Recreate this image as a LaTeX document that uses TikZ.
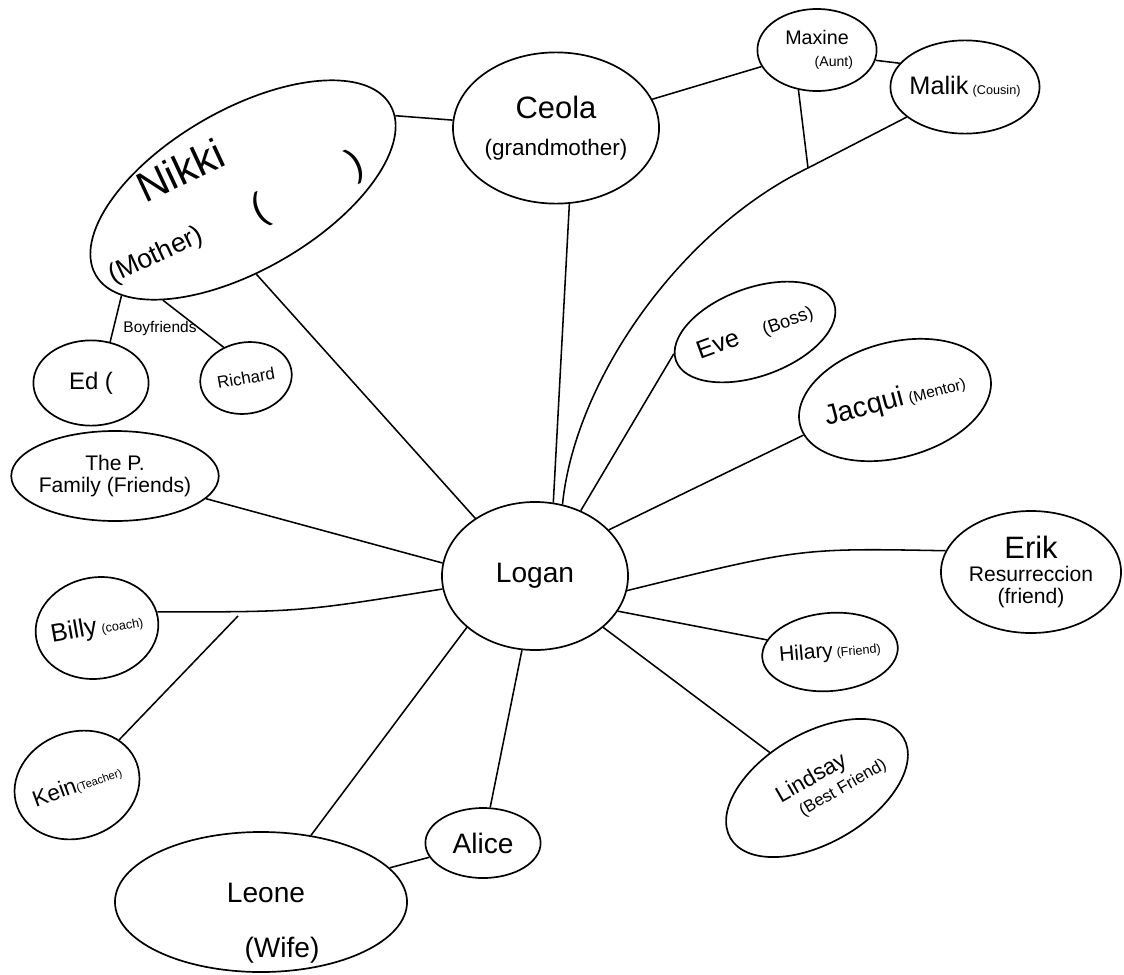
\documentclass[tikz,border=0pt]{standalone}
\usepackage{fontspec}
\setmainfont{Liberation Sans}
\usetikzlibrary{shapes.geometric}
\newcommand{\sz}[1]{\fontsize{#1}{#1}\selectfont}
\tikzstyle{person} = [ellipse, draw=black, line width=1.2pt, inner sep=-2pt, align=center, font=\sz{16}]
\tikzstyle{note} = [inner sep=0pt, align=center]
\tikzstyle{link} = [line width=1.1pt]

\begin{document}
\begin{tikzpicture}[x=0.025cm, y=-0.025cm]
\useasboundingbox (0,0) rectangle (1124,974);

% centre
\node (logan) [person, minimum width=4.65cm, minimum height=3.7cm, font=\sz{20}] at (535,576) {Logan};

% family
\node (ceola) [person, minimum width=5.15cm, minimum height=3.78cm] at (556,128) {\sz{22}Ceola\hspace{2.2em}\\[10pt]\sz{16}(grandmother)};
\node (nikki) [person, minimum width=8.5cm, minimum height=4cm, rotate=30] at (243,190) {};
\node (nikkiname) [note, rotate=25, font=\sz{30}] at (180,170) {Nikki};
\node (nikkirole) [note, rotate=25, font=\sz{19}] at (156,256) {(Mother)};
\node (nikkiparen) [note, rotate=25, font=\sz{28}] at (308,188) {(\hspace{2.3cm})};
\node (maxine) [person, minimum width=2.98cm, minimum height=2.05cm] at (817,50) {\sz{14}Maxine\\\hspace{1.5em}\sz{10}(Aunt)};
\node (malik) [person, minimum width=3.6cm, minimum height=2.33cm] at (965,87) {\sz{18}Malik\,\sz{9}(Cousin)};
\node (ed) [person, minimum width=2.88cm, minimum height=2.13cm, font=\sz{17}] at (91,383) {Ed (};
\node (richard) [person, minimum width=2.3cm, minimum height=1.78cm, rotate=10, font=\sz{12}] at (246,378) {Richard};
\node (boyf) [note, font=\sz{11}] at (160,328) {Boyfriends};
\node (leone) [person, minimum width=7.3cm, minimum height=3.5cm] at (261,902) {};
\node (leonename) [note, font=\sz{20}] at (266,893) {Leone};
\node (leonerole) [note, font=\sz{20}] at (282,950) {(Wife)};
\node (alice) [person, minimum width=2.88cm, minimum height=1.75cm, font=\sz{20}] at (483,843) {Alice};

% work and friends
\node (eve) [person, minimum width=4.2cm, minimum height=2.2cm, rotate=20] at (755,332) {\sz{18}Eve\hspace{1em}\sz{13}(Boss)};
\node (jacqui) [person, minimum width=4.75cm, minimum height=2.88cm, rotate=15] at (895,400) {\sz{20}Jacqui\,\sz{11}(Mentor)};
\node (erik) [person, minimum width=4.5cm, minimum height=3.05cm] at (1031,572) {\sz{22}Erik\\\sz{15}Resurreccion\\\sz{15}(friend)};
\node (hilary) [person, minimum width=3.13cm, minimum height=1.95cm, rotate=5] at (830,652) {\sz{15}Hilary\,\sz{9}(Friend)};
\node (lindsay) [person, minimum width=5cm, minimum height=2.75cm, rotate=30] at (817,788) {\sz{16}Lindsay\\\hspace{2em}\sz{12}(Best Friend)};
\node (pfamily) [person, minimum width=5.13cm, minimum height=2.25cm, font=\sz{15}] at (115,476) {The P.\\Family (Friends)};
\node (billy) [person, minimum width=2.88cm, minimum height=2.53cm, rotate=10] at (97,628) {\sz{18}Billy\,\sz{9}(coach)};
\node (kein) [person, minimum width=3.18cm, minimum height=2.65cm, rotate=20] at (77,785) {\sz{16}Kein\sz{8}(Teacher)};

\coordinate (mj) at (808,168);
\coordinate (kj) at (238,616);

% family lines
\draw [link] (nikki.-4) -- (ceola);
\draw [link] (ceola) -- (maxine);
\draw [link] (maxine.-10) -- (malik.160);
\draw [link] (maxine.-115) -- (mj);
\draw [link] (logan.69) .. controls (575,380) and (680,230) .. (mj) -- (malik);
\draw [link] (logan.76) -- (ceola.-80);
\draw [link] (logan.136) -- (nikki.249);
\draw [link] (nikki.191) -- (ed.65);
\draw [link] (nikki.204) -- (richard.116);
\draw [link] (logan.-143) -- (leone);
\draw [link] (logan.-100) -- (alice);
\draw [link] (alice) -- (leone);

% other lines
\draw [link] (logan.55) -- (eve.175);
\draw [link] (logan.32) -- (jacqui.186);
\draw [link] (logan.-9) .. controls (800,548) .. (erik.166);
\draw [link] (logan.-23) -- (hilary);
\draw [link] (logan.-37) -- (lindsay);
\draw [link] (logan.172) -- (pfamily.-14);
\draw [link] (billy.5) .. controls (300,612) .. (logan.-172);
\draw [link] (kein.27) -- (kj);
\end{tikzpicture}
\end{document}
